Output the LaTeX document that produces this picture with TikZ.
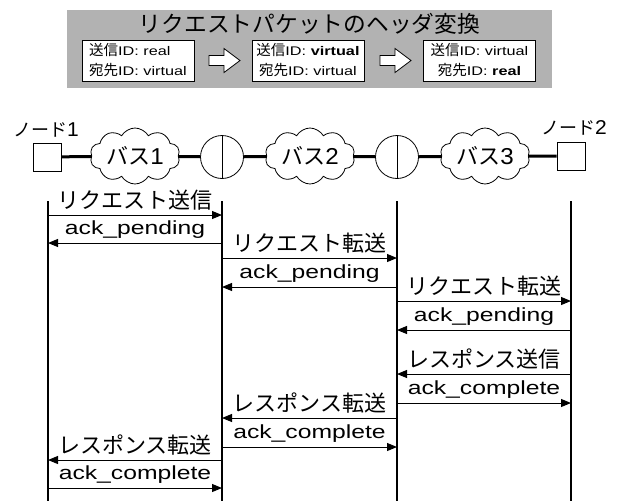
\documentclass[tikz,border=0pt]{standalone}
\usepackage{fontspec}
\setmainfont{Liberation Sans}[FakeStretch=1.3]
\newfontfamily\cjk{Noto Sans CJK JP}[Scale=1.16]
\newfontfamily\digfont{Liberation Sans}[FakeStretch=1.05]
\usetikzlibrary{shapes.symbols,arrows.meta}
\newcommand\jp[1]{{\cjk #1}}
\newcommand\dg[1]{{\digfont\fontsize{23}{23}\selectfont #1}}
\begin{document}
\begin{tikzpicture}[x=1pt,y=-1pt,
  lbl/.style={font=\fontsize{19}{22}\selectfont},
  idbox/.style={draw, fill=white, line width=0.8pt, minimum width=112pt, minimum height=41pt, inner sep=0pt, font=\fontsize{12.5}{20}\selectfont},
  blockarrow/.style={draw, fill=white, line width=0.8pt, line join=miter},
  nodebox/.style={draw, fill=white, line width=0.8pt, minimum size=28pt, inner sep=0pt},
  bus/.style={cloud, cloud puffs=10, cloud puff arc=120, cloud ignores aspect, draw, line width=0.8pt, minimum width=90pt, minimum height=56pt, inner sep=0pt},
  router/.style={circle, draw, line width=0.8pt, minimum size=43pt, inner sep=0pt},
  link/.style={line width=3pt},
  life/.style={line width=1.8pt},
  msg/.style={line width=1pt, -{Triangle[length=10pt,width=8pt]}},
  msglbl/.style={lbl, above=4pt, inner sep=0pt}
]
\useasboundingbox (0,0) rectangle (619,501);

% header panel
\node[fill=black!30, minimum width=485pt, minimum height=78pt, inner sep=0pt] (hdr) at (309.5,49) {};
\node[font=\fontsize{19.6}{22}\selectfont, inner sep=0pt] (title) at (309.5,24) {\jp{リクエストパケットのヘッダ変換}};
\node[idbox, align=left] (h1) at (138,60.5) {\jp{送信}ID: real\\\jp{宛先}ID: virtual};
\node[idbox, align=center] (h2) at (308,60.5) {\jp{送信}ID: \textbf{virtual}\\\jp{宛先}ID: virtual};
\node[idbox, align=center] (h3) at (479.5,60.5) {\jp{送信}ID: virtual\\\jp{宛先}ID: \textbf{real}};
\draw[blockarrow] (209,55.5) -- (224,55.5) -- (224,48.5) -- (240,60.5) -- (224,72.5) -- (224,65.5) -- (209,65.5) -- cycle;
\draw[blockarrow] (380,55.5) -- (395,55.5) -- (395,48.5) -- (411,60.5) -- (395,72.5) -- (395,65.5) -- (380,65.5) -- cycle;

% network row
\node[font=\fontsize{15.5}{18}\selectfont, anchor=west, inner sep=0pt] (n1lbl) at (13,129.5) {\jp{ノード}{\digfont\fontsize{20}{20}\selectfont 1}};
\node[font=\fontsize{15.5}{18}\selectfont, anchor=east, inner sep=0pt] (n2lbl) at (607,127.5) {\jp{ノード}{\digfont\fontsize{20}{20}\selectfont 2}};
\node[nodebox] (n1) at (47,157) {};
\node[nodebox] (n2) at (571,156) {};
\node[bus] (bus1) at (135,156) {};
\node[bus] (bus2) at (310,156) {};
\node[bus] (bus3) at (485,156) {};
\node[lbl, inner sep=0pt] (bus1t) at (bus1) {\jp{バス}\dg{1}};
\node[lbl, inner sep=0pt] (bus2t) at (bus2) {\jp{バス}\dg{2}};
\node[lbl, inner sep=0pt] (bus3t) at (bus3) {\jp{バス}\dg{3}};
\node[router] (r1) at (222,157) {};
\node[router] (r2) at (397,157) {};
\draw[line width=0.8pt] (r1.north) -- (r1.south);
\draw[line width=0.8pt] (r2.north) -- (r2.south);
\draw[link] (n1) -- (bus1);
\draw[link] (bus1) -- (r1);
\draw[link] (r1) -- (bus2);
\draw[link] (bus2) -- (r2);
\draw[link] (r2) -- (bus3);
\draw[link] (bus3) -- (n2);

% lifelines
\foreach \i/\x in {1/48,2/222,3/397,4/571}{
  \coordinate (T\i) at (\x,201);
  \coordinate (B\i) at (\x,501);
  \draw[life] (T\i) -- (B\i);
}

% messages
\foreach \k/\a/\b/\y/\t in {
  1/1/2/215/{\jp{リクエスト送信}},
  2/2/1/243/{ack\_pending},
  3/2/3/258/{\jp{リクエスト転送}},
  4/3/2/287/{ack\_pending},
  5/3/4/301/{\jp{リクエスト転送}},
  6/4/3/330/{ack\_pending},
  7/4/3/374/{\jp{レスポンス送信}},
  8/3/4/403/{ack\_complete},
  9/3/2/418/{\jp{レスポンス転送}},
  10/2/3/447/{ack\_complete},
  11/2/1/460/{\jp{レスポンス転送}},
  12/1/2/488/{ack\_complete}}{
  \coordinate (y\k) at (0,\y);
  \draw[msg] (T\a |- y\k) -- node[msglbl] (m\k) {\t} (T\b |- y\k);
}
\end{tikzpicture}
\end{document}
